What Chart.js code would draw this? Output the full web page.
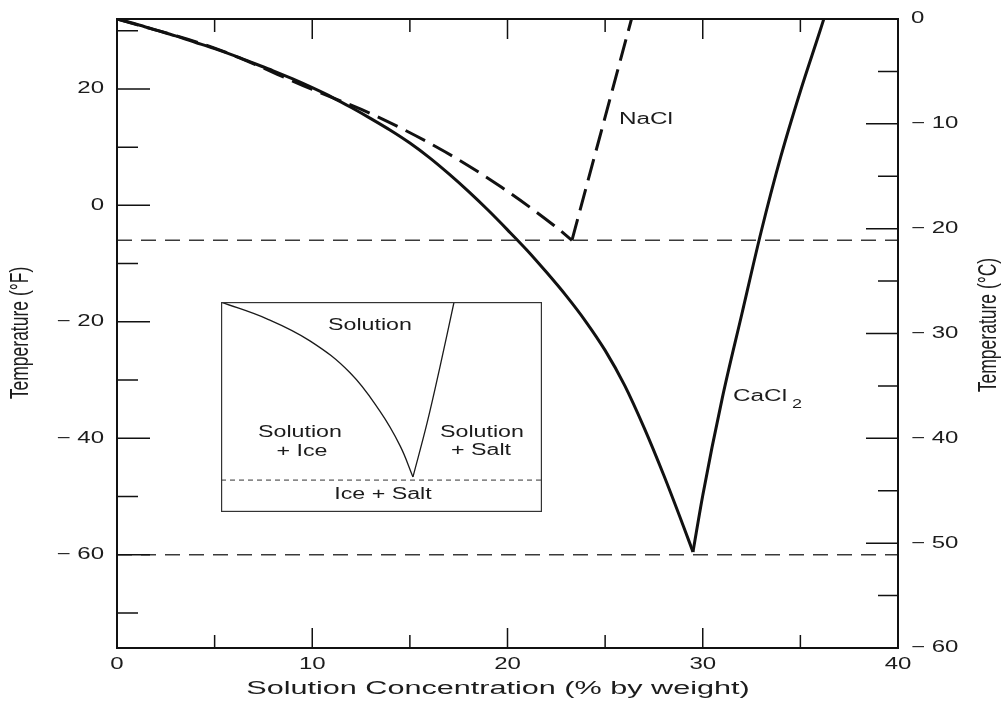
<!DOCTYPE html>
<html><head><meta charset="utf-8">
<script src="https://cdn.jsdelivr.net/npm/chart.js@4.4.0/dist/chart.umd.min.js"></script>
<style>
html,body{margin:0;padding:0;background:#fff;}
#wrap{position:relative;width:1002px;height:702px;overflow:hidden;}
#mainBox{position:absolute;left:0;top:0;width:1002px;height:702px;}
#insetBox{position:absolute;left:221px;top:302px;width:321px;height:210px;}
</style></head><body>
<div id="wrap">
  <div id="mainBox"><canvas id="main"></canvas></div>
  <div id="insetBox"><canvas id="inset"></canvas></div>
</div>
<script>
// ---------- data (concentration % by weight, temperature °F) ----------
const cacl2LeftConc  = [0, 1, 2, 3, 4, 5, 6, 7, 8, 9, 10, 11, 12, 13, 14, 15, 16, 17, 18, 19, 20, 21, 22, 23, 24, 25, 26, 27, 28, 29, 29.5];
const cacl2LeftTempF = [32, 31.1, 30.1, 29.1, 28.0, 26.9, 25.7, 24.4, 23.1, 21.7, 20.2, 18.6, 16.8, 14.9, 12.9, 10.7, 8.2, 5.4, 2.4, -0.8, -4.2, -7.7, -11.5, -15.5, -19.9, -24.9, -30.9, -38.2, -46.3, -55.0, -59.5];
const cacl2RightConc  = [29.5, 30, 31, 32, 33, 34, 35, 36, 36.2];
const cacl2RightTempF = [-59.5, -49.8, -33.1, -18.7, -4.4, 8.4, 19.6, 29.9, 32];
const naclLeftConc  = [0, 5.0, 10.0, 13.1, 16.8, 19.7, 22.4, 23.3];
const naclLeftTempF = [32, 27.0, 19.9, 15.6, 9.2, 3.1, -3.5, -6.0];
const naclRightConc  = [23.3, 26.35];
const naclRightTempF = [-6.0, 32];
const eutecticConc = [0, 40];
const naclEutecticTempF = [-6, -6];
const cacl2EutecticTempF = [-60, -60];

// axis ticks
const xTickValues = [0, 5, 10, 15, 20, 25, 30, 35, 40];
const xTickLabels = ['0', '', '10', '', '20', '', '30', '', '40'];
const fTickValues = [-70, -60, -50, -40, -30, -20, -10, 0, 10, 20, 30];
const fTickLabels = ['', '−60', '', '−40', '', '−20', '', '0', '', '20', ''];
const cTickValues = [-60, -55, -50, -45, -40, -35, -30, -25, -20, -15, -10, -5, 0];
const cTickLabels = ['−60', '', '−50', '', '−40', '', '−30', '', '−20', '', '−10', '', '0'];

const xTitle = 'Solution Concentration (% by weight)';
const yLeftTitle = 'Temperature (°F)';
const yRightTitle = 'Temperature (°C)';

// inset schematic (0–100 box units)
const insetLeftX = [0, 14.3, 27.7, 40.2, 49.5, 55.8, 59.8];
const insetLeftY = [100, 92.0, 81.5, 66.3, 48.0, 31.5, 16.7];
const insetRightX = [59.8, 64.2, 68.2, 72.6];
const insetRightY = [16.7, 42.4, 69.0, 100];
const insetDashX = [0, 100];
const insetDashY = [15.2, 15.2];

// ---------- helpers ----------
const FONT = '"Liberation Sans", Arial, Helvetica, sans-serif';
function pts(xs, ys) { return xs.map((v, i) => ({x: v, y: ys[i]})); }
function sText(ctx, text, x, y, o) {
  ctx.save();
  ctx.font = (o.size || 15) + 'px ' + FONT;
  ctx.fillStyle = o.color || '#1c1c1c';
  ctx.textAlign = o.align || 'center';
  ctx.textBaseline = o.baseline || 'middle';
  ctx.translate(x, y);
  ctx.scale(o.sx || 1.5, 1);
  if (o.rotate) ctx.rotate(-Math.PI / 2);
  ctx.fillText(text, 0, 0);
  ctx.restore();
}
function tickText(t) { return t.replace('−', '− '); }

const framePlugin = {
  id: 'frame',
  afterDraw(chart) {
    const {ctx, chartArea: a, scales} = chart;
    const x = scales.x, yF = scales.yF, yC = scales.yC;
    ctx.save();
    ctx.strokeStyle = '#111';
    ctx.lineWidth = 1.5;
    ctx.beginPath();
    xTickValues.forEach((v, i) => {
      if (v <= 0 || v >= 40) return;
      const px = x.getPixelForValue(v);
      const len = xTickLabels[i] ? 20 : 13;
      ctx.moveTo(px, a.bottom); ctx.lineTo(px, a.bottom - len);
      ctx.moveTo(px, a.top); ctx.lineTo(px, a.top + len);
    });
    fTickValues.forEach((v, i) => {
      const py = yF.getPixelForValue(v);
      const len = fTickLabels[i] ? 33 : 21;
      ctx.moveTo(a.left, py); ctx.lineTo(a.left + len, py);
    });
    cTickValues.forEach((v, i) => {
      if (v <= -60 || v >= 0) return;
      const py = yC.getPixelForValue(v);
      const len = cTickLabels[i] ? 32 : 20;
      ctx.moveTo(a.right, py); ctx.lineTo(a.right - len, py);
    });
    ctx.stroke();
    ctx.lineWidth = 2;
    ctx.strokeRect(a.left, a.top, a.right - a.left, a.bottom - a.top);
    ctx.restore();

    // tick labels
    const tk = {size: 16, sx: 1.5};
    xTickValues.forEach((v, i) => {
      if (xTickLabels[i]) sText(ctx, xTickLabels[i], x.getPixelForValue(v), a.bottom + 17, tk);
    });
    fTickValues.forEach((v, i) => {
      if (fTickLabels[i]) sText(ctx, tickText(fTickLabels[i]), a.left - 13, yF.getPixelForValue(v), Object.assign({align: 'right'}, tk));
    });
    cTickValues.forEach((v, i) => {
      if (cTickLabels[i]) sText(ctx, tickText(cTickLabels[i]), a.right + 13, yC.getPixelForValue(v), Object.assign({align: 'left'}, tk));
    });
    // titles
    sText(ctx, xTitle, 498, 689, {size: 18, sx: 1.7});
    sText(ctx, yLeftTitle, 21, 333, {size: 17.5, sx: 1.5, rotate: true});
    sText(ctx, yRightTitle, 989, 325, {size: 17.5, sx: 1.5, rotate: true});
    // curve labels
    sText(ctx, 'NaCl', 646, 120, {size: 16, sx: 1.52});
    sText(ctx, 'CaCl', 733, 397, {size: 16, sx: 1.52, align: 'left'});
    sText(ctx, '2', 792, 405, {size: 12, sx: 1.5, align: 'left'});
  }
};

const lineBase = {pointRadius: 0, pointHoverRadius: 0, fill: false, yAxisID: 'yF', xAxisID: 'x'};

new Chart(document.getElementById('main'), {
  type: 'line',
  data: {
    datasets: [
      Object.assign({}, lineBase, {label: 'NaCl eutectic', data: pts(eutecticConc, naclEutecticTempF),
        borderColor: '#3a3a3a', borderWidth: 1.5, borderDash: [15, 9]}),
      Object.assign({}, lineBase, {label: 'CaCl2 eutectic', data: pts(eutecticConc, cacl2EutecticTempF),
        borderColor: '#3a3a3a', borderWidth: 1.5, borderDash: [15, 9]}),
      Object.assign({}, lineBase, {label: 'NaCl', data: pts(naclLeftConc, naclLeftTempF),
        borderColor: '#111', borderWidth: 3, borderDash: [22, 9], cubicInterpolationMode: 'monotone'}),
      Object.assign({}, lineBase, {label: 'NaCl solubility', data: pts(naclRightConc, naclRightTempF),
        borderColor: '#111', borderWidth: 3, borderDash: [22, 9]}),
      Object.assign({}, lineBase, {label: 'CaCl2', data: pts(cacl2LeftConc, cacl2LeftTempF),
        borderColor: '#111', borderWidth: 3, cubicInterpolationMode: 'monotone'}),
      Object.assign({}, lineBase, {label: 'CaCl2 solubility', data: pts(cacl2RightConc, cacl2RightTempF),
        borderColor: '#111', borderWidth: 3, cubicInterpolationMode: 'monotone'})
    ]
  },
  options: {
    responsive: true, maintainAspectRatio: false, animation: false,
    layout: {padding: {top: 19, left: 0, right: 0, bottom: 0}},
    plugins: {legend: {display: false}, tooltip: {enabled: false}},
    scales: {
      x: {type: 'linear', position: 'bottom', min: 0, max: 40,
        ticks: {display: false, stepSize: 5}, grid: {display: false, drawTicks: false}, border: {display: false},
        title: {display: false, text: xTitle},
        afterFit(s) { s.height = 54; }},
      yF: {type: 'linear', position: 'left', min: -76, max: 32,
        ticks: {display: false, stepSize: 10, includeBounds: false}, grid: {display: false, drawTicks: false}, border: {display: false},
        title: {display: false, text: yLeftTitle},
        afterFit(s) { s.width = 117; }},
      yC: {type: 'linear', position: 'right', min: -60, max: 0,
        ticks: {display: false, stepSize: 5}, grid: {display: false, drawTicks: false}, border: {display: false},
        title: {display: false, text: yRightTitle},
        afterFit(s) { s.width = 104; }}
    }
  },
  plugins: [framePlugin]
});

const insetPlugin = {
  id: 'insetFrame',
  afterDraw(chart) {
    const {ctx, chartArea: a} = chart;
    ctx.save();
    ctx.strokeStyle = '#333';
    ctx.lineWidth = 1.2;
    ctx.strokeRect(a.left + 0.6, a.top + 0.6, a.right - a.left - 1.2, a.bottom - a.top - 1.2);
    ctx.restore();
    const o = {size: 16, sx: 1.45};
    sText(ctx, 'Solution', 149, 24, o);
    sText(ctx, 'Solution', 79, 131, o);
    sText(ctx, '+ Ice', 81, 150, o);
    sText(ctx, 'Solution', 261, 131, o);
    sText(ctx, '+ Salt', 260, 149, o);
    sText(ctx, 'Ice + Salt', 162, 193, o);
  }
};
const insetBase = {pointRadius: 0, fill: false, clip: false, borderColor: '#1a1a1a'};
new Chart(document.getElementById('inset'), {
  type: 'line',
  data: {
    datasets: [
      Object.assign({}, insetBase, {label: 'ice line', data: pts(insetLeftX, insetLeftY), borderWidth: 1.3, tension: 0.4}),
      Object.assign({}, insetBase, {label: 'salt line', data: pts(insetRightX, insetRightY), borderWidth: 1.3, tension: 0.4}),
      Object.assign({}, insetBase, {label: 'eutectic', data: pts(insetDashX, insetDashY), borderWidth: 1, borderDash: [5, 4], borderColor: '#333'})
    ]
  },
  options: {
    responsive: true, maintainAspectRatio: false, animation: false,
    layout: {padding: 0},
    plugins: {legend: {display: false}, tooltip: {enabled: false}},
    scales: {
      x: {type: 'linear', min: 0, max: 100, display: false},
      y: {type: 'linear', min: 0, max: 100, display: false}
    }
  },
  plugins: [insetPlugin]
});
</script>
</body></html>
